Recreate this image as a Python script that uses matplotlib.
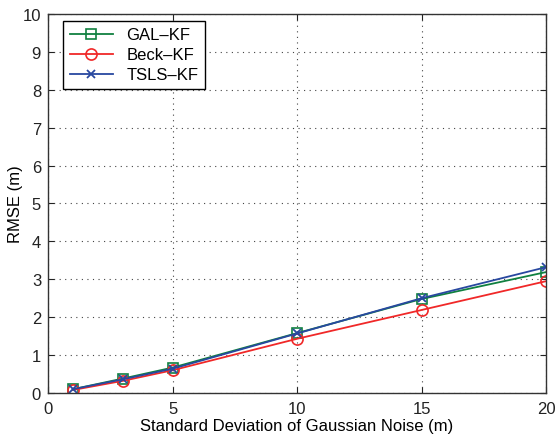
import matplotlib
matplotlib.use("Agg")
import matplotlib.pyplot as plt

# noise std (m) and RMSE (m) for each filter
sigma = [1, 3, 5, 10, 15, 20]
rmse_gal = [0.10, 0.38, 0.67, 1.58, 2.48, 3.19]
rmse_beck = [0.08, 0.32, 0.60, 1.43, 2.19, 2.95]
rmse_tsls = [0.10, 0.36, 0.64, 1.57, 2.50, 3.32]

plt.rcParams['font.family'] = ['Liberation Sans', 'DejaVu Sans']

fig = plt.figure(figsize=(5.55, 4.39), dpi=100)
ax = fig.add_axes([0.0865, 0.1025, 0.8975, 0.8635])

ax.plot(sigma, rmse_gal, color="#108040", marker="s", mfc="none", ms=7,
        mew=1.2, lw=1.3, label="GAL\u2013KF")
ax.plot(sigma, rmse_beck, color="#f02828", marker="o", mfc="none", ms=8,
        mew=1.2, lw=1.3, label="Beck\u2013KF")
ax.plot(sigma, rmse_tsls, color="#2848a0", marker="x", ms=6,
        mew=1.3, lw=1.3, label="TSLS\u2013KF")

ax.set_xlim(0, 20)
ax.set_ylim(0, 10)
ax.set_xticks([0, 5, 10, 15, 20])
ax.set_yticks(range(11))
ax.tick_params(direction="in", length=4, labelsize=12, top=True, right=True,
               colors="#222222")
ax.tick_params(axis="x", pad=6)
ax.tick_params(axis="y", pad=5)
ax.grid(True, linestyle=(0, (1, 4)), color="#444444", linewidth=0.8)
for s in ax.spines.values():
    s.set_color("#333333")
    s.set_linewidth(1.0)

ax.set_xlabel("Standard Deviation of Gaussian Noise (m)", fontsize=12, labelpad=1)
ax.set_ylabel("RMSE (m)", fontsize=12)
ax.yaxis.set_label_coords(-0.05, 0.5)

leg = ax.legend(loc="upper left", fontsize=12, fancybox=False, framealpha=1,
                edgecolor="black", handlelength=2.6, borderpad=0.4,
                labelspacing=0.3, borderaxespad=0,
                bbox_to_anchor=(0.030, 0.982))
leg.get_frame().set_linewidth(1.0)

fig.savefig("out.png", dpi=100)
